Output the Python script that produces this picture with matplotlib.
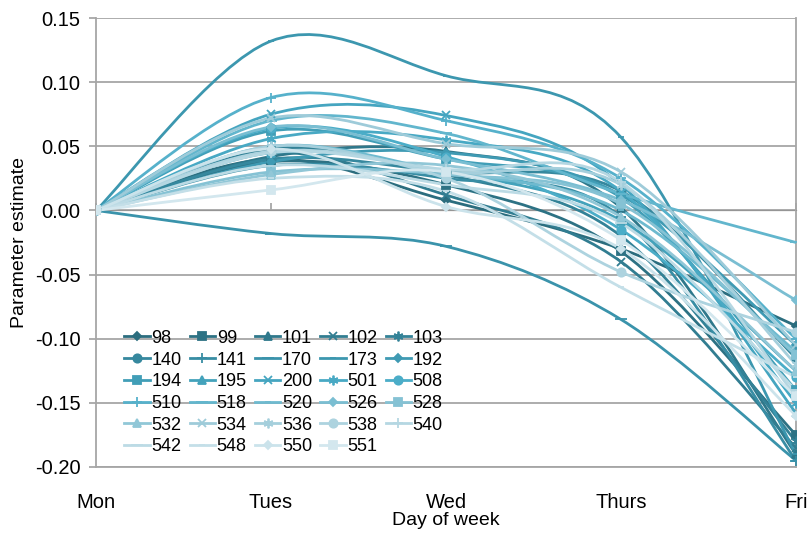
import numpy as np
import matplotlib
matplotlib.use('Agg')
import matplotlib.pyplot as plt
from matplotlib.path import Path
from matplotlib.patches import PathPatch
from matplotlib.lines import Line2D
from matplotlib.colors import LinearSegmentedColormap

plt.rcParams['font.family'] = ['Liberation Sans Narrow', 'Liberation Sans', 'DejaVu Sans']

days = ['Mon', 'Tues', 'Wed', 'Thurs', 'Fri']
names = ['98', '99', '101', '102', '103', '140', '141', '170', '173', '192',
         '194', '195', '200', '501', '508', '510', '518', '520', '526', '528',
         '532', '534', '536', '538', '540', '542', '548', '550', '551']

# estimates for Mon..Fri (Mon is the reference day)
est = {
    '98':  [0, 0.040, 0.008, -0.030, -0.090],
    '99':  [0, 0.038, 0.020, -0.032, -0.175],
    '101': [0, 0.042, 0.046, 0.002, -0.190],
    '102': [0, 0.045, 0.012, -0.040, -0.185],
    '103': [0, 0.048, 0.028, -0.020, -0.180],
    '140': [0, 0.040, 0.030, 0.015, -0.115],
    '141': [0, 0.035, 0.025, -0.005, -0.195],
    '170': [0, -0.018, -0.028, -0.085, -0.195],
    '173': [0, 0.132, 0.105, 0.057, -0.190],
    '192': [0, 0.038, 0.045, 0.012, -0.105],
    '194': [0, 0.062, 0.040, 0.010, -0.140],
    '195': [0, 0.045, 0.030, -0.008, -0.125],
    '200': [0, 0.075, 0.074, 0.020, -0.158],
    '501': [0, 0.056, 0.055, 0.015, -0.150],
    '508': [0, 0.064, 0.042, -0.015, -0.130],
    '510': [0, 0.088, 0.070, 0.025, -0.100],
    '518': [0, 0.070, 0.060, 0.013, -0.025],
    '520': [0, 0.050, 0.030, 0.000, -0.110],
    '526': [0, 0.065, 0.040, 0.008, -0.070],
    '528': [0, 0.030, 0.028, 0.005, -0.113],
    '532': [0, 0.028, 0.035, -0.005, -0.125],
    '534': [0, 0.072, 0.052, 0.030, -0.105],
    '536': [0, 0.050, 0.030, 0.020, -0.120],
    '538': [0, 0.046, 0.025, -0.048, -0.095],
    '540': [0, 0.045, 0.032, 0.022, -0.145],
    '542': [0, 0.035, 0.020, -0.010, -0.140],
    '548': [0, 0.025, 0.015, -0.060, -0.130],
    '550': [0, 0.048, 0.003, -0.030, -0.160],
    '551': [0, 0.016, 0.030, -0.023, -0.145],
}

yticks = [-0.20, -0.15, -0.10, -0.05, 0.00, 0.05, 0.10, 0.15]

# excel-like marker cycle
mcycle = [('D', 4.5), ('s', 5.5), ('^', 6), ('x', 6), ((6, 2, 0), 7),
          ('o', 6), ('+', 7), ('_', 8), ('_', 5)]
cmap = LinearSegmentedColormap.from_list('teal', ['#2b6d7e', '#3a93ab', '#4aadc8', '#9dcbd9', '#d3e7ee'])


def smooth_path(xs, ys):
    # catmull-rom style bezier, like excel "smoothed line"
    pts = np.column_stack([xs, ys]).astype(float)
    verts = [pts[0]]
    codes = [Path.MOVETO]
    n = len(pts)
    for i in range(n - 1):
        p0 = pts[i - 1] if i > 0 else pts[i]
        p1, p2 = pts[i], pts[i + 1]
        p3 = pts[i + 2] if i + 2 < n else pts[i + 1]
        verts += [p1 + (p2 - p0) / 6., p2 - (p3 - p1) / 6., p2]
        codes += [Path.CURVE4] * 3
    return Path(verts, codes)


fig = plt.figure(figsize=(8.07, 5.36), dpi=100)
ax = fig.add_axes([96 / 807, 69 / 536, 700 / 807, 449 / 536])

x = np.arange(len(days))
handles = []
for k, nm in enumerate(names):
    c = cmap(k / (len(names) - 1))
    mk, ms = mcycle[k % len(mcycle)]
    y = est[nm]
    ax.add_patch(PathPatch(smooth_path(x, y), fill=False, ec=c, lw=2, zorder=3 + k * 0.01,
                           capstyle='round'))
    ax.plot(x, y, ls='none', marker=mk, ms=ms, color=c, mec=c, mew=1.3, zorder=3.5 + k * 0.01)
    handles.append(Line2D([], [], color=c, lw=2, marker=mk, ms=ms, mec=c, mew=1.3, label=nm))

ax.set_xlim(0, 4)
ax.set_ylim(-0.20, 0.15)
ax.set_yticks(yticks)
ax.set_yticklabels(['%.2f' % v if abs(v) > 1e-9 else '0.00' for v in yticks])
ax.set_xticks(x)
ax.set_xticklabels(days)
ax.tick_params(axis='x', length=0, pad=19, labelsize=14.5)
ax.tick_params(axis='y', length=5, color='#a0a0a0', width=1.2, pad=6, labelsize=14.5)
ax.grid(axis='y', color='#a6a6a6', lw=1.3, zorder=0)
for s in ['left', 'right', 'bottom', 'top']:
    ax.spines[s].set_color('#a6a6a6')
    ax.spines[s].set_linewidth(1.3)
ax.spines['top'].set_visible(False)

# category axis crosses at zero
sec = ax.secondary_xaxis(0.2 / 0.35)
sec.set_xticks(x)
sec.set_xticklabels([])
sec.tick_params(length=5, color='#a0a0a0', width=1.2, direction='out')
sec.spines['bottom'].set_color('#a6a6a6')
sec.spines['bottom'].set_linewidth(1.3)

ax.set_xlabel('Day of week', fontsize=14, labelpad=0)
ax.set_ylabel('Parameter estimate', fontsize=14, labelpad=5)

# legend rows are filled across, so reorder for column-major layout
ncol = 5
nrow = -(-len(handles) // ncol)
order = [i * ncol + j for j in range(ncol) for i in range(nrow) if i * ncol + j < len(handles)]
ax.legend([handles[i] for i in order], [names[i] for i in order], ncol=ncol,
          loc='lower left', bbox_to_anchor=(0.03, 0.01), frameon=False, fontsize=13,
          handlelength=1.4, handletextpad=0.1, columnspacing=0.45, labelspacing=0.26,
          borderaxespad=0)

fig.savefig('out.png', dpi=100)
